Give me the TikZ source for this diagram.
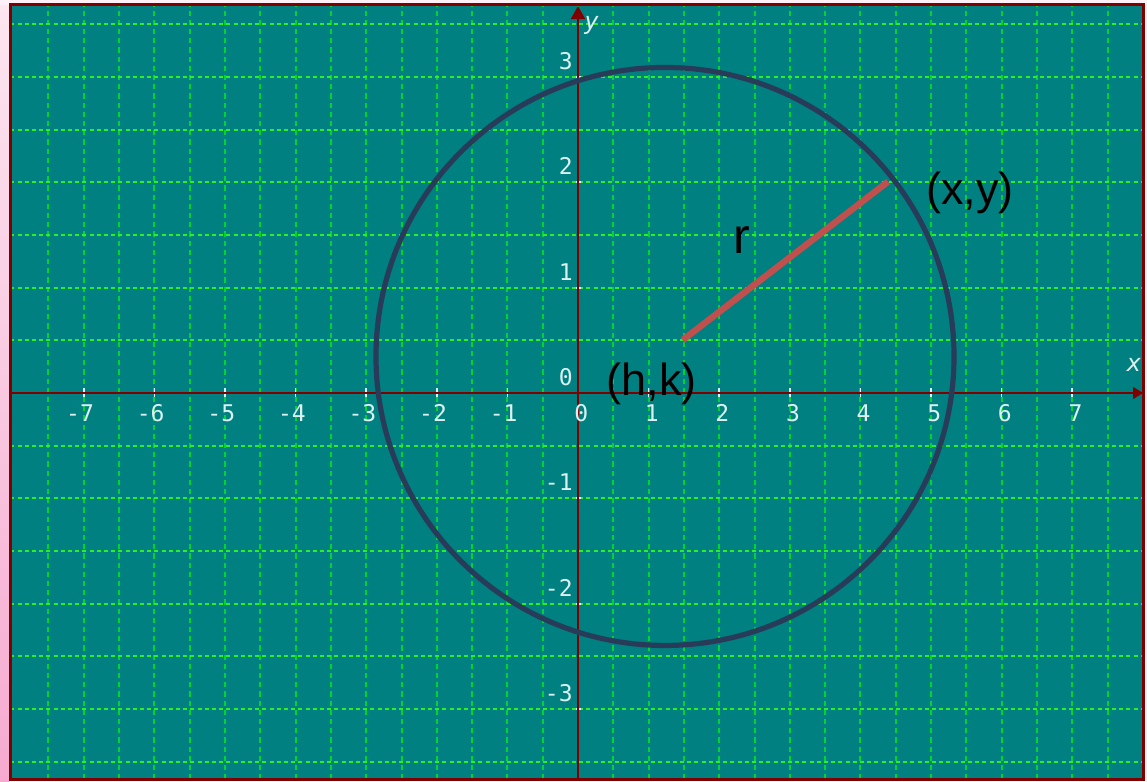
\documentclass[tikz,border=0pt]{standalone}
\usepackage{fontspec}
\setmainfont{Liberation Sans}
\newfontfamily\tickfont{DejaVu Sans Mono}
\usepackage{xcolor}
\usepackage{tikz}
\usetikzlibrary{arrows.meta}

\definecolor{plotbg}{HTML}{008080}
\definecolor{axisred}{HTML}{800000}
\definecolor{gridh}{HTML}{2AF02A}
\definecolor{gridv}{HTML}{00D433}
\definecolor{ticktext}{HTML}{DCF0F0}
\definecolor{circlenavy}{HTML}{283C5A}
\definecolor{radiusred}{HTML}{C0504D}
\definecolor{pagepink}{HTML}{FDF0F6}
\definecolor{striptop}{HTML}{FCE6F0}
\definecolor{stripbottom}{HTML}{F6AAD0}

\tikzset{
  gridline h/.style={gridh, line width=1pt, dash pattern=on 2pt off 1.6pt},
  gridline v/.style={gridv, line width=1pt, dash pattern=on 2.6pt off 2pt},
  ticklabel/.style={text=ticktext, inner sep=0pt, font=\tickfont\fontsize{11.5}{13}\selectfont},
  bigtext/.style={text=black, inner sep=0pt, font=\fontsize{22.5}{26}\selectfont}
}

\begin{document}
\begin{tikzpicture}[x=35.3pt, y=52.65pt]

        \useasboundingbox (-8.187,-3.685) rectangle (8.059,3.732);
        \fill[pagepink] (-8.187,-3.685) rectangle (8.059,3.732);
        \shade[top color=striptop, bottom color=stripbottom] (-8.187,-3.685) rectangle (-8.05,3.68);
        \fill[plotbg] (-8.04,-3.67) rectangle (8.01,3.689);

        \foreach \gx in {-7.5,-7,...,7.5}
            \draw[gridline v] (\gx,-3.67) -- (\gx,3.689);
        \foreach \gy in {-3.5,-3,...,3.5}
            \draw[gridline h] (-8.04,\gy) -- (8.01,\gy);

        \draw[axisred, line width=1.5pt] (-8.04,-3.67) rectangle (8.01,3.689);

        \foreach \i in {-7,...,-1,1,2,...,7}
            \draw[white!85!cyan, line width=0.8pt] (\i,-0.038) -- (\i,0.047);
        \foreach \j in {-3,-2,-1,1,2,3}
            \draw[white!85!cyan, line width=1pt] (-0.033,\j) -- (0.042,\j);

        \draw[axisred, line width=0.8pt, -{Triangle[length=5pt, width=6pt]}] (-8.04,0) -- (8.003,0);
        \draw[axisred, line width=0.8pt, -{Triangle[length=6.5pt, width=7pt]}] (0,-3.67) -- (0,3.675);

        \coordinate (center) at (1.232,0.347);
        \coordinate (rstart) at (1.483,0.503);
        \coordinate (point) at (4.391,2.007);

        \draw[radiusred, line width=3.2pt] (rstart) -- (point);
        \draw[circlenavy, line width=2.6pt] (center) circle[radius=144.5pt];

        \foreach \i in {-7,...,7}
            \node[ticklabel, anchor=east] (xl\i) at (\i+0.149,-0.19) {\ifnum\i<0 -\the\numexpr-\i\relax\else\i\fi};
        \foreach \j in {-3,...,3}
            \node[ticklabel, anchor=east] (yl\j) at (-0.071,\j+0.152) {\ifnum\j<0 -\the\numexpr-\j\relax\else\j\fi};

        \node[ticklabel, font=\tickfont\itshape\fontsize{12}{13}\selectfont] (ylabel) at (0.194,3.495) {y};
        \node[ticklabel, font=\tickfont\itshape\fontsize{12}{13}\selectfont] (xlabel) at (7.875,0.266) {x};

        \node[bigtext] (hk) at (1.044,0.085) {(h,k)};
        \node[bigtext] (xy) at (5.552,1.899) {(x,y)};
        \node[bigtext, font=\fontsize{25}{28}\selectfont] (r) at (2.316,1.453) {r};

\end{tikzpicture}
\end{document}
